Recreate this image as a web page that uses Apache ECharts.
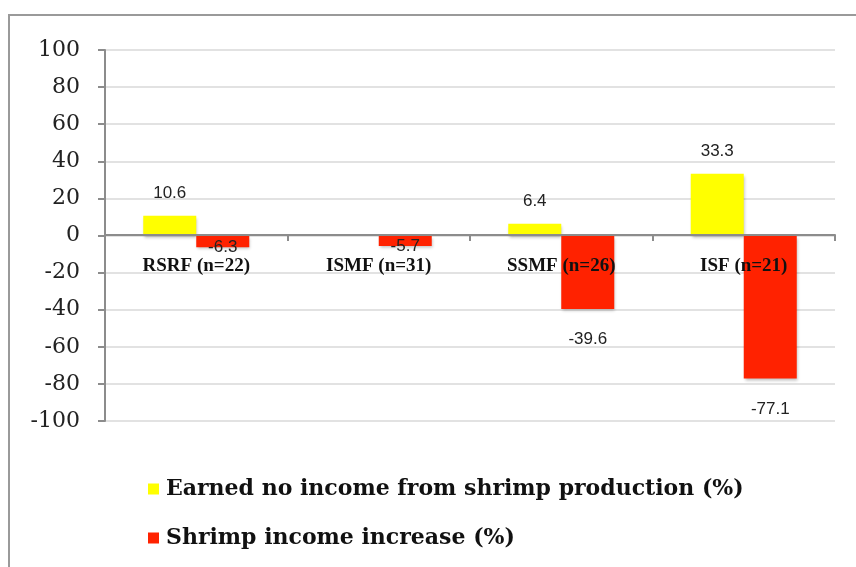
<!DOCTYPE html>
<html>
<head>
<meta charset="UTF-8">
<title>Shrimp income</title>
<script src="https://cdn.jsdelivr.net/npm/echarts@6/dist/echarts.min.js"></script>
<style>
  html, body { margin: 0; padding: 0; background: #fff; }
  #main { width: 856px; height: 567px; }
</style>
</head>
<body>
<div id="main"></div>
<script>
// categories and values
var categories = ['RSRF (n=22)', 'ISMF (n=31)', 'SSMF (n=26)', 'ISF (n=21)'];
var noIncome = [10.6, null, 6.4, 33.3];
var incomeIncrease = [-6.3, -5.7, -39.6, -77.1];
var yTicks = [-100, -80, -60, -40, -20, 0, 20, 40, 60, 80, 100];

var seriesNames = ['Earned no income from shrimp production (%)', 'Shrimp income increase (%)'];

// small negative bars: excel put the label right on the bar end
var redData = incomeIncrease.map(function (v) {
    if (v > -10) {
        return { value: v, label: { position: 'bottom', distance: -8 } };
    }
    return v;
});

var barShadow = { shadowBlur: 3, shadowOffsetX: 1, shadowOffsetY: 2, shadowColor: 'rgba(0,0,0,0.25)' };

var option = {
    animation: false,
    backgroundColor: '#fff',
    graphic: [{
        type: 'rect',
        shape: { x: 9, y: 15, width: 900, height: 600 },
        style: { fill: 'none', stroke: '#9a9a9a', lineWidth: 2 },
        z: 0
    }],
    grid: { left: 105, right: 21, top: 50, bottom: 146, containLabel: false },
    legend: {
        orient: 'vertical',
        left: 143,
        top: 473,
        itemWidth: 11,
        itemHeight: 11,
        itemGap: 27,
        icon: 'rect',
        textStyle: { fontFamily: 'DejaVu Serif', fontWeight: 'bold', fontSize: 22, color: '#111', padding: [0, 0, 0, 2] },
        data: seriesNames
    },
    xAxis: {
        type: 'category',
        data: categories,
        // axis sits on the zero line, labels just below it and over the bars
        offset: -186,
        z: 5,
        axisLine: { onZero: false, lineStyle: { color: '#8c8c8c', width: 2 } },
        axisTick: { show: true, length: 6, lineStyle: { color: '#8c8c8c', width: 2 } },
        axisLabel: { margin: 22, fontFamily: 'Liberation Serif', fontWeight: 'bold', fontSize: 19, color: '#111' },
        splitLine: { show: false }
    },
    yAxis: {
        type: 'value',
        min: yTicks[0],
        max: yTicks[yTicks.length - 1],
        interval: 20,
        axisLine: { show: true, lineStyle: { color: '#8c8c8c', width: 2 } },
        axisTick: { show: true, length: 7, lineStyle: { color: '#8c8c8c', width: 2 } },
        axisLabel: { margin: 25, fontFamily: 'DejaVu Serif', fontSize: 22, color: '#222' },
        splitLine: { lineStyle: { color: '#e2e2e2', width: 2 } }
    },
    series: [
        {
            name: seriesNames[0],
            type: 'bar',
            data: noIncome,
            barWidth: 53,
            barGap: '0%',
            itemStyle: Object.assign({ color: '#ffff00' }, barShadow),
            label: {
                show: true, position: 'top', distance: 14,
                fontFamily: 'Liberation Sans', fontSize: 17, color: '#222'
            }
        },
        {
            name: seriesNames[1],
            type: 'bar',
            data: redData,
            barWidth: 53,
            barGap: '0%',
            itemStyle: Object.assign({ color: '#ff2200' }, barShadow),
            label: {
                show: true, position: 'bottom', distance: 22,
                fontFamily: 'Liberation Sans', fontSize: 17, color: '#222'
            }
        }
    ]
};

var myChart = echarts.init(document.getElementById('main'));
myChart.setOption(option);
</script>
</body>
</html>
